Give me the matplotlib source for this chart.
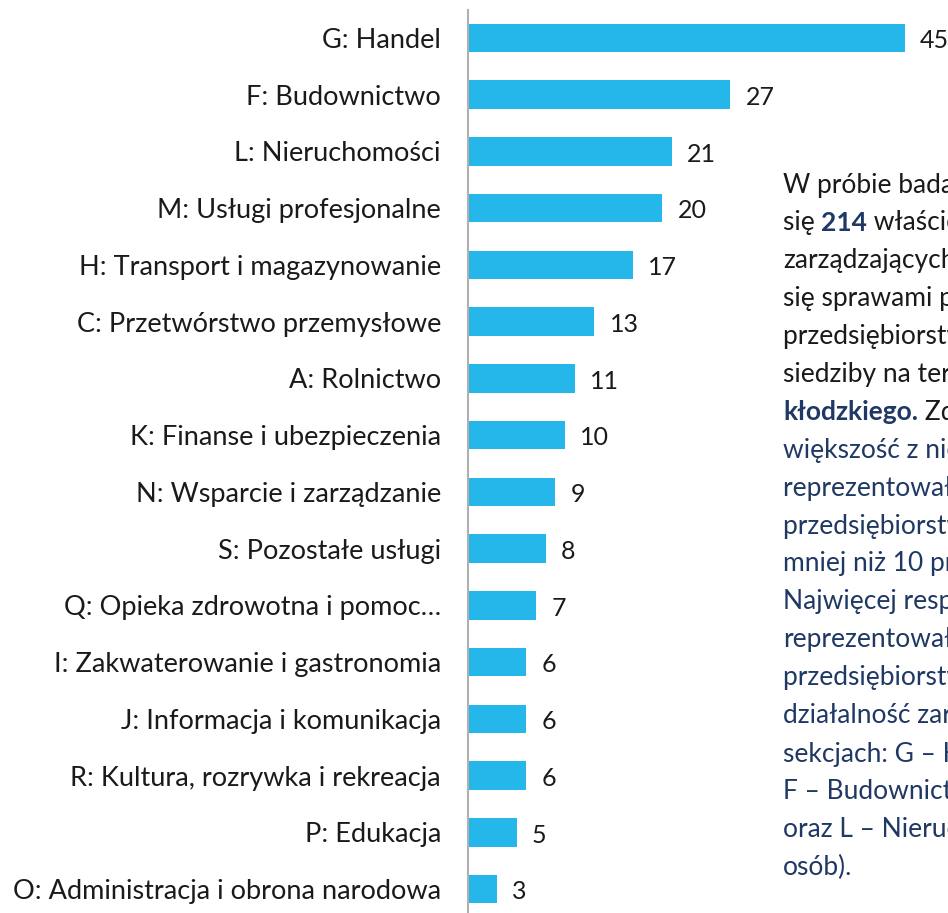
import matplotlib
matplotlib.use("Agg")
import matplotlib.pyplot as plt

plt.rcParams['font.family'] = ['Lato', 'DejaVu Sans']

categories = [
    "G: Handel",
    "F: Budownictwo",
    "L: Nieruchomości",
    "M: Usługi profesjonalne",
    "H: Transport i magazynowanie",
    "C: Przetwórstwo przemysłowe",
    "A: Rolnictwo",
    "K: Finanse i ubezpieczenia",
    "N: Wsparcie i zarządzanie",
    "S: Pozostałe usługi",
    "Q: Opieka zdrowotna i pomoc…",
    "I: Zakwaterowanie i gastronomia",
    "J: Informacja i komunikacja",
    "R: Kultura, rozrywka i rekreacja",
    "P: Edukacja",
    "O: Administracja i obrona narodowa",
]
values = [45, 27, 21, 20, 17, 13, 11, 10, 9, 8, 7, 6, 6, 6, 5, 3]

# opis po prawej (linie tekstu, fragmenty: tekst, pogrubienie, kolor)
BLACK = "#1a1a1a"
NAVY = "#1f3864"
note_lines = [
    [("W próbie badawczej znalazło", False, BLACK)],
    [("się ", False, BLACK), ("214", True, NAVY), (" właścicieli lub osób", False, BLACK)],
    [("zarządzających", False, BLACK)],
    [("się sprawami prowadzonych", False, BLACK)],
    [("przedsiębiorstw mających", False, BLACK)],
    [("siedziby na terenie powiatu", False, BLACK)],
    [("kłodzkiego.", True, NAVY), (" Zdecydowana", False, BLACK)],
    [("większość z nich", False, NAVY)],
    [("reprezentowała mikro", False, NAVY)],
    [("przedsiębiorstwa, zatrudniające", False, NAVY)],
    [("mniej niż 10 pracowników.", False, NAVY)],
    [("Najwięcej respondentów", False, NAVY)],
    [("reprezentowało", False, NAVY)],
    [("przedsiębiorstwa prowadzące", False, NAVY)],
    [("działalność zarejestrowaną w", False, NAVY)],
    [("sekcjach: G – Handel (45 osób),", False, NAVY)],
    [("F – Budownictwo (27 osób)", False, NAVY)],
    [("oraz L – Nieruchomości (21", False, NAVY)],
    [("osób).", False, NAVY)],
]

W, H = 948, 913
fig = plt.figure(figsize=(W / 100, H / 100), dpi=100)
ax = fig.add_axes([468 / W, 0, (934 - 468) / W, (913 - 10) / H])

y = list(range(len(categories)))[::-1]
ax.barh(y, values, height=0.5, color="#25b7ea")
ax.set_xlim(0, 48)
ax.set_ylim(-0.42, 15.49)
ax.set_yticks(y)
ax.set_yticklabels(categories, fontsize=19.5, color="#1a1a1a")
ax.tick_params(axis="y", length=0, pad=19.5)
ax.set_xticks([])
for s in ["top", "right", "bottom"]:
    ax.spines[s].set_visible(False)
ax.spines["left"].set_color("#b0b0b0")
ax.spines["left"].set_linewidth(1.5)

for yi, v in zip(y, values):
    ax.annotate(str(v), (v, yi), xytext=(11, -2), textcoords="offset points",
                va="center", ha="left", fontsize=18, color="#1a1a1a")

x0 = 783 / W
for i, parts in enumerate(note_lines):
    ypos = 1 - (185 + i * 37.9) / H
    last = None
    for txt, bold, col in parts:
        kw = dict(fontsize=19, color=col, fontweight="bold" if bold else "normal",
                  va="center", ha="left")
        if last is None:
            last = fig.text(x0, ypos, txt, **kw)
        else:
            last = plt.annotate(txt, xy=(1, 0.5), xycoords=last, **kw)

fig.savefig("out.png", dpi=100)
